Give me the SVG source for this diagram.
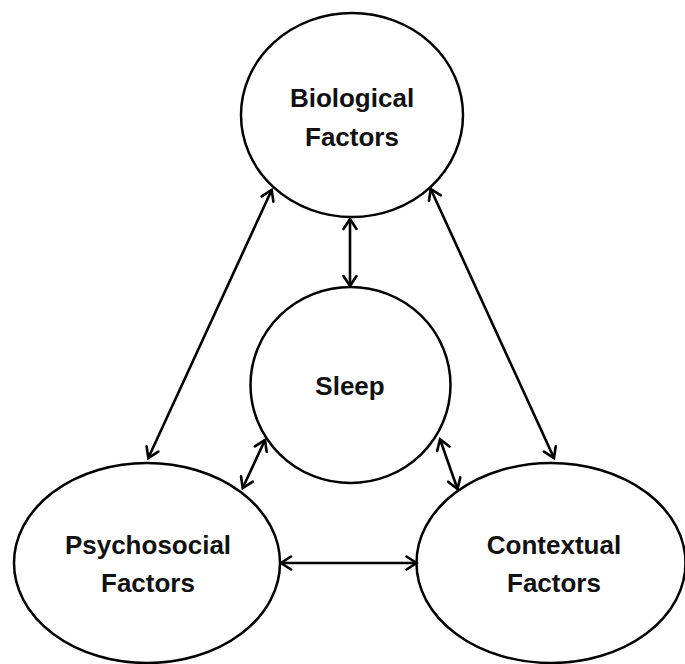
<svg xmlns="http://www.w3.org/2000/svg" width="685" height="664" viewBox="0 0 685 664">
<style>
.node{fill:#fff;stroke:#000;stroke-width:2.5}
.lbl{font-family:"Liberation Sans",Arial,sans-serif;font-weight:bold;font-size:26px;fill:#111;text-anchor:middle}
.conn{stroke:#000;stroke-width:2.6;fill:none;marker-start:url(#ah);marker-end:url(#ah)}
</style>
<defs>
<marker id="ah" viewBox="-12 -8 14 16" refX="0" refY="0" markerWidth="14" markerHeight="16" markerUnits="userSpaceOnUse" orient="auto-start-reverse">
<path d="M-10,-6.5 L0,0 L-10,6.5" fill="none" stroke="#000" stroke-width="2.6" stroke-linecap="round" stroke-linejoin="miter"/>
</marker>
</defs>
<rect width="685" height="664" fill="#fff"/>
<g id="biological">
<ellipse class="node" cx="352" cy="115" rx="111" ry="102"/>
<text class="lbl" x="352" y="107">Biological</text>
<text class="lbl" x="352" y="146">Factors</text>
</g>
<g id="sleep">
<ellipse class="node" cx="350.5" cy="385" rx="100" ry="98"/>
<text class="lbl" x="350" y="395">Sleep</text>
</g>
<g id="psychosocial">
<ellipse class="node" cx="147" cy="563" rx="133" ry="100"/>
<text class="lbl" x="148" y="554">Psychosocial</text>
<text class="lbl" x="148" y="592">Factors</text>
</g>
<g id="contextual">
<ellipse class="node" cx="551" cy="563" rx="134.5" ry="100"/>
<text class="lbl" x="554" y="554">Contextual</text>
<text class="lbl" x="554" y="592">Factors</text>
</g>
<g id="connectors">
<line class="conn" x1="350" y1="219" x2="350" y2="286"/>
<line class="conn" x1="271.7" y1="190" x2="148.3" y2="458"/>
<line class="conn" x1="430.7" y1="189" x2="554" y2="458"/>
<line class="conn" x1="265" y1="440" x2="242.7" y2="488"/>
<line class="conn" x1="440" y1="439.3" x2="457.5" y2="489"/>
<line class="conn" x1="281" y1="563" x2="416.5" y2="563"/>
</g>
</svg>
